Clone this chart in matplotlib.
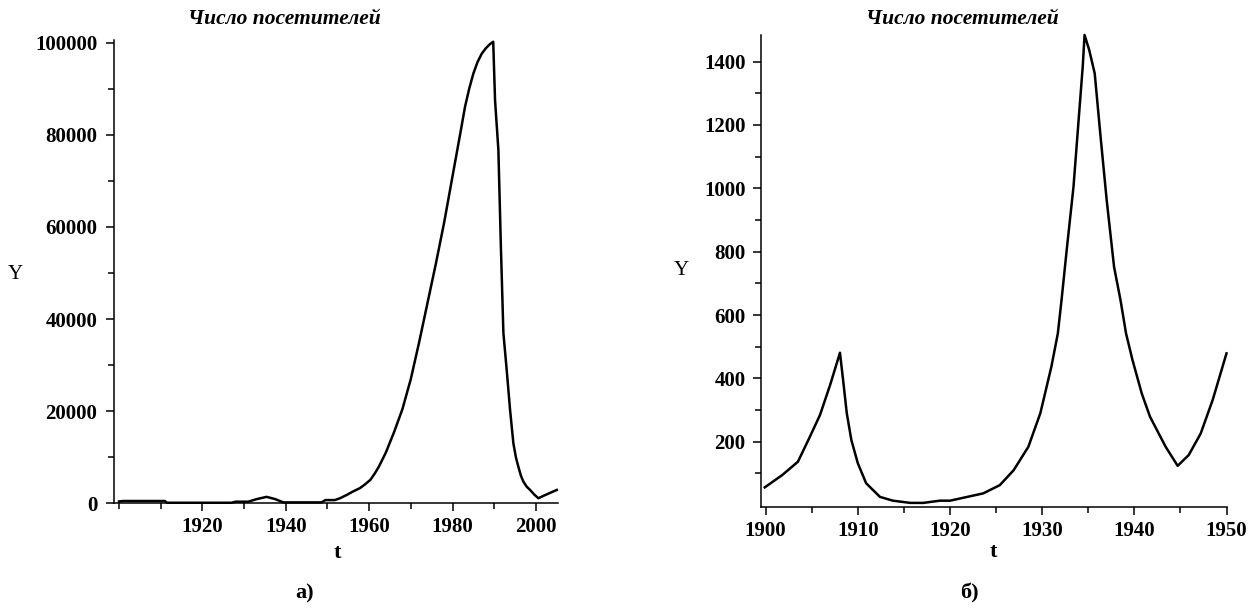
import matplotlib
matplotlib.use("Agg")
import matplotlib.pyplot as plt
from matplotlib.ticker import FixedLocator

# ---- data ----
title_text = "Число посетителей"

t_a = [1900, 1901, 1911, 1911.5, 1927, 1928, 1931, 1933, 1935.4, 1937.5, 1939.4,
       1948.6, 1949.5, 1951.8, 1953, 1954.6, 1956, 1957.8, 1959, 1960.3, 1961.3,
       1962.3, 1964, 1966, 1968, 1970, 1972, 1974, 1976, 1978, 1980, 1982, 1983,
       1984, 1985, 1986, 1987, 1988, 1989, 1989.76, 1990.2, 1991,
       1991.6, 1992.2, 1993, 1993.8, 1994.6, 1995.2, 1995.8, 1996.4, 1997,
       1997.8, 1998.6, 1999.6, 2000.6, 2002, 2003.5, 2005]
y_a = [400, 500, 500, 120, 120, 350, 350, 900, 1400, 900, 200,
       200, 700, 700, 1100, 1800, 2500, 3300, 4100, 5100, 6400,
       7900, 11000, 15500, 20500, 27000, 35000, 43500, 52000, 61000, 71000, 81000, 86100,
       90000, 93300, 95800, 97600, 98800, 99700, 100200, 87500, 76700,
       55700, 37000, 28900, 20300, 13000, 10000, 7900, 6000, 4700,
       3600, 2900, 1900, 1100, 1700, 2300, 2900]

t_b = [1899.9, 1901.8, 1903.5, 1904.8, 1905.9, 1907.0, 1908.06, 1908.4, 1908.8,
       1909.3, 1910.0, 1910.9, 1912.4, 1913.8, 1915.7, 1917.1, 1918.9, 1920,
       1923.6, 1925.4, 1926.9, 1928.5, 1929.8, 1931.0, 1931.7, 1932.1, 1932.7,
       1933.4, 1933.9, 1934.4, 1934.6, 1935.1, 1935.7, 1936.3, 1937.0, 1937.8,
       1938.5, 1939.1, 1939.8, 1940.8, 1941.7, 1943.4, 1944.7, 1945.9, 1947.2,
       1948.5, 1950.0]
y_b = [56, 95, 137, 216, 285, 380, 481, 395, 290,
       205, 132, 69, 26, 14, 7, 7, 14, 14,
       37, 63, 110, 184, 290, 437, 542, 647, 816,
       1005, 1195, 1384, 1484, 1437, 1363, 1174, 963, 752,
       647, 542, 458, 353, 279, 184, 124, 158, 226,
       332, 479]

a_xmajor = [1920, 1940, 1960, 1980, 2000]
a_xminor = [1900, 1910, 1930, 1950, 1970, 1990]
a_ymajor = [0, 20000, 40000, 60000, 80000, 100000]
a_yminor = [10000, 30000, 50000, 70000, 90000]

b_xmajor = [1900, 1910, 1920, 1930, 1940, 1950]
b_xminor = [1905, 1915, 1925, 1935, 1945]
b_ymajor = [200, 400, 600, 800, 1000, 1200, 1400]
b_yminor = [100, 300, 500, 700, 900, 1100, 1300]

# ---- figure ----
W, H = 1255, 610
fig = plt.figure(figsize=(W / 100, H / 100), dpi=100)
serif = ["Liberation Serif", "DejaVu Serif"]


def px(x, y):
    return x / W, 1 - y / H


def style(ax, xmaj, xmin, ymaj, ymin, ypad, xpad):
    for s in ("top", "right"):
        ax.spines[s].set_visible(False)
    for s in ("left", "bottom"):
        ax.spines[s].set_linewidth(1.1)
        ax.spines[s].set_color("black")
    ax.xaxis.set_major_locator(FixedLocator(xmaj))
    ax.xaxis.set_minor_locator(FixedLocator(xmin))
    ax.yaxis.set_major_locator(FixedLocator(ymaj))
    ax.yaxis.set_minor_locator(FixedLocator(ymin))
    ax.tick_params(axis="both", which="major", length=6, width=1.1, direction="out")
    ax.tick_params(axis="both", which="minor", length=4, width=1.1, direction="out")
    ax.tick_params(axis="y", which="major", pad=ypad)
    ax.tick_params(axis="x", which="major", pad=xpad)
    ax.set_xticklabels([str(v) for v in xmaj])
    ax.set_yticklabels([str(v) for v in ymaj])
    for lab in ax.get_xticklabels() + ax.get_yticklabels():
        lab.set_fontfamily(serif)
        lab.set_fontweight("bold")
        lab.set_fontsize(15)


# left panel
axa = fig.add_axes([114 / W, 1 - 503.3 / H, 444 / W, 463.3 / H])
axa.plot(t_a, y_a, color="black", lw=1.8, clip_on=False)
axa.set_xlim(1898.8, 2005.3)
axa.set_ylim(0, 100580)
style(axa, a_xmajor, a_xminor, a_ymajor, a_yminor, 6, 4)

# right panel
axb = fig.add_axes([760.7 / W, 1 - 506.7 / H, 465.8 / W, 471.7 / H])
axb.plot(t_b, y_b, color="black", lw=1.8, clip_on=False)
axb.set_xlim(1899.46, 1950)
axb.set_ylim(-5, 1484)
style(axb, b_xmajor, b_xminor, b_ymajor, b_yminor, 5, 4)


# texts
def ftext(x, y, s, **kw):
    fig.text(*px(x, y), s, ha="center", va="center", family=serif, **kw)


ftext(284, 18.5, title_text, fontsize=15.5, fontweight="bold", fontstyle="italic")
ftext(962.5, 18.5, title_text, fontsize=15.5, fontweight="bold", fontstyle="italic")
ftext(15, 275, "Y", fontsize=15)
ftext(681, 270, "Y", fontsize=15)
ftext(337, 553, "t", fontsize=16, fontweight="bold")
ftext(993, 552, "t", fontsize=16, fontweight="bold")
ftext(304.6, 593, "а)", fontsize=16, fontweight="bold")
ftext(969.4, 593, "б)", fontsize=16, fontweight="bold")

fig.savefig("out.png", dpi=100, facecolor="white")
